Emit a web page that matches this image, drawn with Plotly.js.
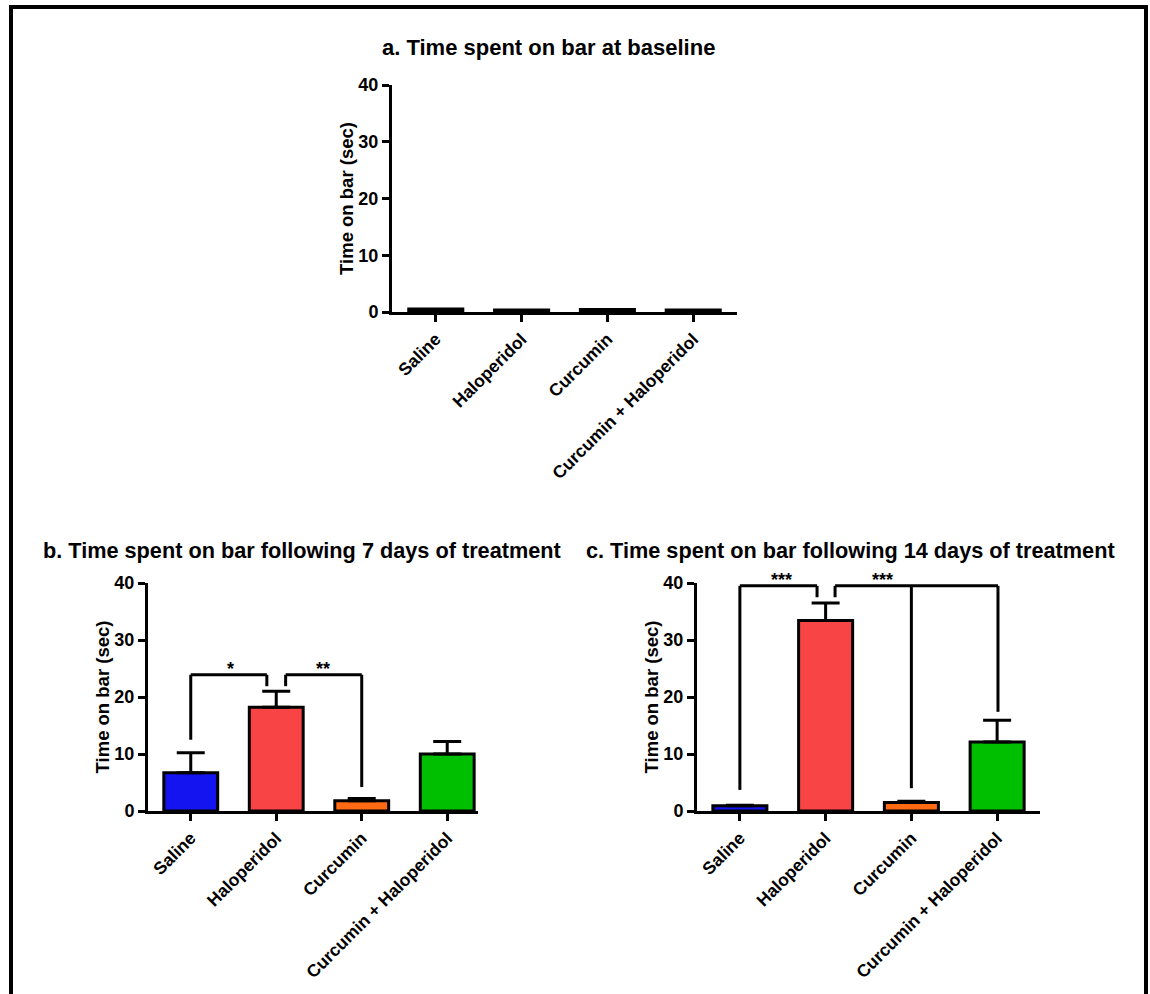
<!DOCTYPE html>
<html>
<head>
<meta charset="utf-8">
<script src="https://cdn.plot.ly/plotly-3.0.1.min.js"></script>
<style>html,body{margin:0;padding:0;background:#fff;}#chart{width:1150px;height:994px;}</style>
</head>
<body>
<div id="chart"></div>
<script>
// ---- data ----
const categories = ['Saline', 'Haloperidol', 'Curcumin', 'Curcumin + Haloperidol'];
const barColors = ['#1414F0', '#F84444', '#FF6A12', '#00BE00'];
const baselineValues = [0.55, 0.35, 0.45, 0.35];
const day7Values = [6.7, 18.2, 1.8, 10.0];
const day7Errors = [3.5, 2.8, 0.4, 2.2];
const day14Values = [0.9, 33.4, 1.5, 12.1];
const day14Errors = [0.1, 3.1, 0.2, 3.8];
const yTicks = [0, 10, 20, 30, 40];
const titles = ['a. Time spent on bar at baseline',
  'b. Time spent on bar following 7 days of treatment',
  'c. Time spent on bar following 14 days of treatment'];
const yTitle = 'Time on bar (sec)';
// significance brackets: legs [x, yBottom], top y, label position
const day7Brackets = [
  {legs: [[0, 12.5], [0.89, 21.9]], top: 23.9, label: '*', lx: 0.47},
  {legs: [[1.11, 21.9], [2, 4.2]], top: 23.9, label: '**', lx: 1.55}
];
const day14Brackets = [
  {legs: [[0, 3.7], [0.9, 37.5]], top: 39.5, label: '***', lx: 0.49},
  {legs: [[1.11, 37.5], [2, 4.0], [3.01, 17.4]], top: 39.5, label: '***', lx: 1.66}
];

const FONT = 'Liberation Sans, Arial, sans-serif';

function barTrace(vals, errs, xa, ya) {
  const t = {
    type: 'bar', x: categories, y: vals, xaxis: xa, yaxis: ya,
    marker: {color: barColors, line: {color: 'black', width: 3}},
    showlegend: false, hoverinfo: 'skip'
  };
  if (errs) {
    t.error_y = {type: 'data', array: errs, arrayminus: errs.map(() => 0), symmetric: false,
      color: 'black', thickness: 3, width: 14};
  }
  return t;
}

const data = [
  barTrace(baselineValues, null, 'x', 'y'),
  barTrace(day7Values, day7Errors, 'x2', 'y2'),
  barTrace(day14Values, day14Errors, 'x3', 'y3')
];

function xAxis(domain, anchor, range) {
  return {domain: domain, anchor: anchor, type: 'category', range: range,
    showline: true, linewidth: 3, linecolor: 'black', ticks: 'outside', ticklen: 7, tickwidth: 3,
    tickcolor: 'black', tickangle: -45, showgrid: false, zeroline: false, fixedrange: true,
    tickfont: {family: FONT, size: 17.5, color: 'black', weight: 'bold'}};
}
function yAxis(domain, anchor) {
  return {domain: domain, anchor: anchor, range: [0, 40], tickvals: yTicks,
    showline: true, linewidth: 3, linecolor: 'black', ticks: 'outside', ticklen: 7, tickwidth: 3,
    tickcolor: 'black', showgrid: false, zeroline: false, fixedrange: true,
    tickfont: {family: FONT, size: 18, color: 'black', weight: 'bold'},
    title: {text: yTitle, standoff: 0, font: {family: FONT, size: 18.5, color: 'black', weight: 'bold'}}};
}

const shapes = [{type: 'rect', xref: 'paper', yref: 'paper', x0: 11/1150, x1: 1146/1150,
  y0: -0.05, y1: (994-7)/994, line: {color: 'black', width: 4}}];
const annotations = [];

function addBrackets(list, xr, yr) {
  list.forEach(b => {
    const xs = b.legs.map(l => l[0]);
    shapes.push({type: 'line', xref: xr, yref: yr, x0: Math.min(...xs), x1: Math.max(...xs),
      y0: b.top, y1: b.top, line: {color: 'black', width: 3}});
    b.legs.forEach(l => shapes.push({type: 'line', xref: xr, yref: yr, x0: l[0], x1: l[0],
      y0: l[1], y1: b.top, line: {color: 'black', width: 3}}));
    annotations.push({xref: xr, yref: yr, x: b.lx, y: b.top, yanchor: 'bottom', yshift: -6,
      text: b.label, showarrow: false,
      font: {family: FONT, size: 18, color: 'black', weight: 'bold'}});
  });
}
addBrackets(day7Brackets, 'x2', 'y2');
addBrackets(day14Brackets, 'x3', 'y3');

annotations.push({xref: 'paper', yref: 'paper', x: 548/1150, y: (994-47)/994, text: titles[0],
  showarrow: false, xanchor: 'center', yanchor: 'middle',
  font: {family: FONT, size: 22, color: 'black', weight: 'bold'}});
annotations.push({xref: 'paper', yref: 'paper', x: 41/1150, y: (994-550)/994, text: titles[1],
  showarrow: false, xanchor: 'left', yanchor: 'middle',
  font: {family: FONT, size: 21.7, color: 'black', weight: 'bold'}});
annotations.push({xref: 'paper', yref: 'paper', x: 584/1150, y: (994-550)/994, text: titles[2],
  showarrow: false, xanchor: 'left', yanchor: 'middle',
  font: {family: FONT, size: 21.7, color: 'black', weight: 'bold'}});

const layout = {
  width: 1150, height: 994, margin: {l: 0, r: 0, t: 0, b: 0},
  paper_bgcolor: 'white', plot_bgcolor: 'white', bargap: 0.37,
  font: {family: FONT, color: 'black'},
  xaxis: xAxis([392/1150, 737/1150], 'y', [-0.51, 3.51]),
  yaxis: yAxis([(994-312)/994, (994-85)/994], 'x'),
  xaxis2: xAxis([148/1150, 478/1150], 'y2', [-0.5, 3.36]),
  yaxis2: yAxis([(994-811)/994, (994-583)/994], 'x2'),
  xaxis3: xAxis([697/1150, 1040/1150], 'y3', [-0.5, 3.5]),
  yaxis3: yAxis([(994-811)/994, (994-583)/994], 'x3'),
  shapes: shapes, annotations: annotations
};

Plotly.newPlot('chart', data, layout, {displayModeBar: false, staticPlot: true});
</script>
</body>
</html>
